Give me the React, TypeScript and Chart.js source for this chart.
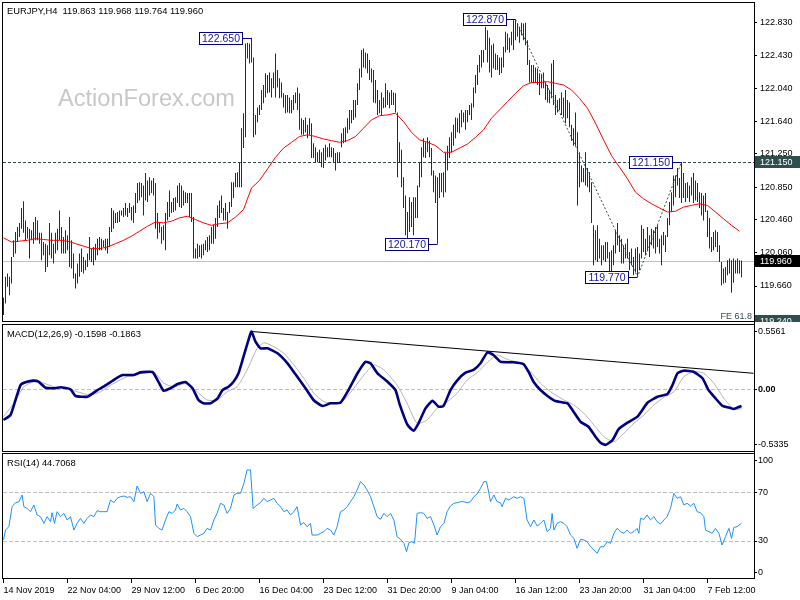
import React, { useEffect, useRef } from "react";
import { Chart, registerables } from "chart.js";

Chart.register(...registerables);

const FONT = '"Liberation Sans", Arial, Helvetica, sans-serif';

// ---------------- data ----------------
const titleText = "EURJPY,H4  119.863 119.968 119.764 119.960";
const macdTitle = "MACD(12,26,9) -0.1598 -0.1863";
const rsiTitle = "RSI(14) 44.7068";
const watermark = "ActionForex.com";

// H4 bars (index 0 = 14 Nov 2019 20:00)
const barHigh = [
  119.52, 119.77, 119.81, 119.77, 120.01, 120.21, 120.31, 120.37, 120.42, 120.60,
  120.68, 120.45, 120.37, 120.35, 120.33, 120.43, 120.49, 120.45, 120.30, 120.30,
  120.19, 120.17, 120.15, 120.42, 120.30, 120.17, 120.30, 120.35, 120.57, 120.37,
  120.25, 120.33, 120.27, 120.49, 120.21, 120.05, 119.81, 119.93, 120.05, 120.11,
  120.01, 119.97, 120.05, 120.25, 120.11, 120.13, 120.17, 120.23, 120.25, 120.23,
  120.21, 120.23, 120.23, 120.37, 120.60, 120.57, 120.54, 120.55, 120.57, 120.57,
  120.60, 120.66, 120.60, 120.66, 120.61, 120.63, 120.78, 120.90, 120.91, 120.90,
  120.87, 121.02, 120.93, 120.97, 120.93, 120.96, 120.90, 120.54, 120.42, 120.37,
  120.39, 120.54, 120.67, 120.81, 120.67, 120.72, 120.73, 120.87, 120.90, 120.87,
  120.81, 120.79, 120.78, 120.78, 120.78, 120.49, 120.11, 120.17, 120.15, 120.16,
  120.17, 120.21, 120.25, 120.27, 120.37, 120.40, 120.48, 120.63, 120.69, 120.75,
  120.60, 120.66, 120.55, 120.67, 120.91, 120.91, 121.02, 121.03, 121.15, 121.56,
  121.74, 122.58, 122.59, 122.58, 122.65, 122.41, 121.72, 121.81, 121.84, 122.02,
  122.08, 122.22, 122.20, 122.23, 122.16, 122.23, 122.46, 122.26, 122.16, 122.11,
  121.98, 121.96, 121.96, 121.93, 121.90, 121.96, 121.99, 122.05, 121.98, 121.68,
  121.66, 121.69, 121.60, 121.68, 121.62, 121.38, 121.33, 121.27, 121.30, 121.27,
  121.32, 121.36, 121.33, 121.38, 121.33, 121.32, 121.26, 121.27, 121.27, 121.50,
  121.56, 121.57, 121.68, 121.78, 121.78, 121.90, 121.90, 122.10, 122.28, 122.50,
  122.52, 122.47, 122.46, 122.38, 122.28, 122.26, 122.14, 122.02, 121.90, 121.99,
  121.93, 122.10, 122.02, 121.99, 122.02, 121.99, 121.98, 121.75, 121.39, 121.30,
  120.97, 120.75, 120.55, 120.73, 120.67, 120.73, 120.73, 120.87, 121.15, 121.33,
  121.44, 121.39, 121.45, 121.41, 121.32, 121.05, 120.99, 120.97, 121.02, 121.02,
  121.03, 121.26, 121.35, 121.45, 121.51, 121.60, 121.69, 121.68, 121.74, 121.78,
  121.75, 121.78, 121.78, 121.84, 121.86, 122.05, 122.20, 122.32, 122.44, 122.50,
  122.50, 122.78, 122.74, 122.65, 122.56, 122.58, 122.46, 122.44, 122.41, 122.41,
  122.54, 122.72, 122.70, 122.65, 122.72, 122.86, 122.87, 122.82, 122.78, 122.83,
  122.82, 122.83, 122.62, 122.38, 122.32, 122.32, 122.29, 122.28, 122.22, 122.20,
  122.23, 122.11, 122.08, 122.02, 122.34, 122.38, 121.96, 121.90, 121.92, 121.99,
  121.93, 122.02, 121.90, 121.87, 121.60, 121.56, 121.75, 121.51, 121.27, 121.11,
  121.08, 121.27, 121.08, 121.03, 120.91, 120.39, 120.33, 120.39, 120.23, 120.15,
  120.15, 120.19, 120.19, 120.07, 120.09, 120.15, 120.33, 120.42, 120.27, 120.23,
  120.15, 120.17, 120.23, 120.07, 120.11, 120.01, 120.11, 120.13, 120.05, 120.39,
  120.35, 120.23, 120.37, 120.27, 120.35, 120.33, 120.37, 120.39, 120.23, 120.27,
  120.31, 120.27, 120.48, 120.67, 120.79, 120.99, 120.99, 121.08, 120.96, 121.15,
  121.02, 120.90, 120.91, 120.87, 120.97, 121.02, 120.93, 120.90, 120.79, 120.78,
  120.75, 120.78, 120.57, 120.48, 120.25, 120.31, 120.33, 120.31, 120.15, 119.95,
  119.87, 119.89, 119.97, 119.99, 119.97, 119.99, 119.97, 119.99, 119.97, 119.968,
];
const barLow = [
  119.31, 119.45, 119.65, 119.55, 119.69, 120.01, 120.05, 120.19, 120.25, 120.35,
  120.30, 120.21, 120.23, 119.99, 120.21, 120.17, 120.21, 120.21, 120.17, 119.97,
  120.03, 119.83, 119.89, 120.03, 119.99, 119.93, 120.05, 120.09, 120.21, 120.05,
  120.05, 120.05, 120.09, 119.89, 119.87, 119.75, 119.63, 119.69, 119.77, 119.83,
  119.81, 119.85, 119.89, 119.97, 119.95, 119.91, 119.97, 120.03, 120.09, 120.09,
  120.13, 120.09, 120.05, 120.13, 120.31, 120.35, 120.42, 120.42, 120.43, 120.51,
  120.49, 120.51, 120.49, 120.54, 120.45, 120.42, 120.54, 120.66, 120.69, 120.73,
  120.51, 120.69, 120.67, 120.75, 120.78, 120.75, 120.35, 120.23, 120.30, 120.17,
  120.21, 120.09, 120.45, 120.49, 120.54, 120.55, 120.57, 120.66, 120.61, 120.60,
  120.63, 120.66, 120.66, 120.49, 120.43, 119.99, 119.99, 119.99, 120.01, 119.99,
  120.03, 120.09, 120.07, 120.09, 120.17, 120.17, 120.23, 120.37, 120.48, 120.54,
  120.45, 120.45, 120.35, 120.54, 120.61, 120.72, 120.85, 120.85, 120.85, 120.85,
  121.32, 121.45, 122.40, 122.34, 122.35, 121.45, 121.48, 121.63, 121.72, 121.78,
  121.86, 121.93, 121.98, 121.99, 121.93, 122.04, 121.93, 122.05, 121.92, 121.93,
  121.81, 121.74, 121.75, 121.74, 121.74, 121.78, 121.86, 121.78, 121.54, 121.48,
  121.48, 121.51, 121.44, 121.48, 121.20, 121.20, 121.14, 121.15, 121.14, 121.09,
  121.08, 121.17, 121.21, 121.21, 121.21, 121.15, 121.05, 121.14, 121.14, 121.33,
  121.38, 121.39, 121.50, 121.54, 121.62, 121.66, 121.69, 121.84, 122.02, 122.17,
  122.29, 122.28, 122.22, 122.14, 122.11, 121.87, 121.86, 121.72, 121.74, 121.72,
  121.80, 121.81, 121.84, 121.80, 121.84, 121.84, 121.75, 120.97, 121.14, 120.85,
  120.60, 120.27, 120.23, 120.31, 120.37, 120.27, 120.48, 120.48, 120.85, 120.97,
  121.21, 121.20, 121.27, 121.21, 120.99, 120.79, 120.66, 120.17, 120.72, 120.79,
  120.73, 120.79, 121.05, 121.20, 121.27, 121.35, 121.44, 121.51, 121.50, 121.57,
  121.63, 121.54, 121.63, 121.72, 121.66, 121.81, 121.98, 122.08, 122.23, 122.29,
  122.35, 122.50, 122.35, 122.23, 122.17, 122.28, 122.26, 122.26, 122.20, 122.22,
  122.29, 122.47, 122.50, 122.47, 122.56, 122.50, 122.62, 122.66, 122.59, 122.68,
  122.62, 122.56, 122.32, 122.11, 122.10, 122.10, 122.11, 122.08, 121.96, 122.04,
  122.04, 121.90, 121.87, 121.86, 121.92, 121.84, 121.72, 121.75, 121.78, 121.72,
  121.69, 121.62, 121.68, 121.57, 121.41, 121.35, 121.35, 120.63, 120.85, 120.91,
  120.91, 120.87, 120.85, 120.79, 120.42, 119.91, 119.97, 119.95, 119.99, 119.91,
  119.97, 119.95, 119.99, 119.81, 119.81, 119.91, 120.05, 120.15, 120.07, 119.93,
  119.93, 119.99, 119.99, 119.85, 119.91, 119.79, 119.83, 119.77, 119.85, 119.99,
  120.07, 120.03, 120.09, 120.01, 120.15, 120.11, 120.05, 120.13, 120.05, 119.91,
  120.15, 120.07, 120.25, 120.39, 120.55, 120.63, 120.73, 120.87, 120.72, 120.66,
  120.72, 120.67, 120.72, 120.67, 120.75, 120.66, 120.69, 120.67, 120.60, 120.51,
  120.45, 120.55, 120.25, 120.11, 120.07, 120.09, 120.13, 120.07, 119.95, 119.67,
  119.69, 119.70, 119.79, 119.81, 119.58, 119.70, 119.81, 119.81, 119.81, 119.764,
];

// red moving average, one reading every 4 bars (bars 0, 4, 8, ... 368)
const MA_STEP = 4;
const maValues = [
  120.24, 120.19, 120.20, 120.21, 120.23, 120.22, 120.21, 120.21, 120.20, 120.17,
  120.14, 120.11, 120.11, 120.13, 120.17, 120.21, 120.26, 120.32, 120.38, 120.43,
  120.42, 120.44, 120.48, 120.50, 120.46, 120.42, 120.39, 120.41, 120.42, 120.49,
  120.58, 120.84, 120.93, 121.07, 121.21, 121.32, 121.39, 121.46, 121.48, 121.46,
  121.43, 121.41, 121.39, 121.41, 121.46, 121.56, 121.66, 121.71, 121.72, 121.74,
  121.64, 121.51, 121.42, 121.39, 121.35, 121.27, 121.27, 121.32, 121.37, 121.45,
  121.54, 121.68, 121.78, 121.88, 121.98, 122.07, 122.11, 122.11, 122.12, 122.10,
  122.08, 122.02, 121.92, 121.80, 121.62, 121.42, 121.23, 121.09, 120.95, 120.79,
  120.71, 120.65, 120.60, 120.55, 120.56, 120.61, 120.63, 120.65, 120.63, 120.55,
  120.47, 120.39, 120.32,
];

// [bar position, value]
const macdMain: [number, number][] = [
  [0, -0.295], [3.5, -0.247], [6, -0.103], [8.5, 0.041], [11, 0.067], [15, 0.083], [17.5, 0.073], [21, 0.015],
  [26, 0.01], [28.5, 0.019], [33.5, 0], [36, -0.064], [42, -0.071], [47, -0.007], [50, 0.025], [55, 0.089],
  [59.5, 0.137], [65, 0.137], [68.5, 0.163], [74.5, 0.166], [77, 0.089], [80, -0.013], [83.5, 0.01], [87, 0.051],
  [91, 0.07], [94.5, 0.01], [97.5, -0.103], [100, -0.135], [103.5, -0.135], [107, -0.087], [109.5, -0.007],
  [112.5, 0.025], [115, 0.073], [117.5, 0.154], [120, 0.313], [123, 0.506], [124, 0.556], [126, 0.458],
  [128.5, 0.394], [132, 0.394], [137, 0.346], [142, 0.25], [146, 0.144], [151, 0.01], [155, -0.103],
  [159.5, -0.161], [163.5, -0.135], [168.5, -0.129], [172.5, -0.007], [177, 0.154], [181, 0.265], [183.5, 0.25],
  [187, 0.154], [192, 0.073], [196, -0.007], [198, -0.14], [202, -0.343], [205, -0.398], [207.5, -0.327],
  [211, -0.183], [214.5, -0.11], [217.5, -0.167], [220, -0.161], [223.5, -0.007], [227, 0.089], [231, 0.16],
  [235, 0.186], [238.5, 0.25], [242, 0.356], [245, 0.33], [248.5, 0.265], [255, 0.26], [260, 0.243],
  [262.5, 0.169], [265, 0.073], [268.5, -0.007], [272.5, -0.071], [276, -0.113], [282, -0.135], [285, -0.215],
  [288.5, -0.312], [292.5, -0.36], [296, -0.456], [298.5, -0.513], [301, -0.534], [304.5, -0.488],
  [307.5, -0.385], [312, -0.321], [317, -0.263], [322, -0.129], [327, -0.071], [332, -0.045], [334.5, 0.041],
  [337, 0.154], [340, 0.179], [345, 0.169], [349.5, 0.106], [352.5, -0.007], [356, -0.087], [359.5, -0.16],
  [363.5, -0.18], [365, -0.19], [367, -0.175], [369, -0.16],
];
const macdSignal: [number, number][] = [
  [0, -0.263], [5.2, -0.135], [10.2, 0.025], [15.2, 0.073], [20.2, 0.058], [25.2, 0.025], [31.8, 0.01],
  [36.8, -0.023], [43.5, -0.055], [48.5, -0.023], [55.2, 0.058], [61.8, 0.121], [68.5, 0.154], [75.2, 0.163],
  [80.2, 0.058], [85.2, 0.025], [91.8, 0.058], [96.8, -0.023], [101.8, -0.103], [106.8, -0.103], [111.8, -0.023],
  [116.8, 0.025], [121.8, 0.186], [126.8, 0.394], [130.2, 0.448], [135.2, 0.41], [140.2, 0.346], [145.2, 0.234],
  [150.2, 0.106], [155.2, -0.038], [160.2, -0.119], [165.2, -0.135], [170.2, -0.103], [175.2, 0.01],
  [180.2, 0.137], [185.2, 0.234], [190.2, 0.186], [196.8, 0.041], [201.8, -0.135], [206.8, -0.327],
  [211.8, -0.295], [216.8, -0.183], [221.8, -0.119], [226.8, -0.038], [231.8, 0.089], [236.8, 0.16],
  [241.8, 0.256], [246.8, 0.33], [251.8, 0.288], [258.5, 0.25], [263.5, 0.169], [268.5, 0.058], [273.5, -0.023],
  [280.2, -0.103], [285.2, -0.151], [290.2, -0.231], [295.2, -0.343], [300.2, -0.456], [305.2, -0.504],
  [310.2, -0.423], [315.2, -0.327], [320.2, -0.247], [325.2, -0.151], [330.2, -0.077], [335.2, -0.023],
  [340.2, 0.121], [345.2, 0.169], [350.2, 0.154], [355.2, 0.058], [360.2, -0.087], [365.2, -0.192], [369, -0.186],
];
const macdTrend: [number, number][] = [[124, 0.556], [375, 0.154]];

const rsiLine: [number, number][] = [
  [0, 30.8], [1, 39], [2.7, 41.8], [4.3, 58.2], [6, 61.5], [7.7, 62.3], [9.3, 67.8], [10.2, 58.2], [11.8, 56.8], [13.5, 54.1],
  [15.2, 59.6], [16.8, 51.4], [18.5, 50], [20.2, 44.5], [21.8, 50], [23.5, 45.9], [24.3, 53.3], [25.5, 44.5], [26.8, 54.1], [28.5, 50],
  [30.2, 52.7], [31.8, 47.3], [33.5, 50], [35.2, 39], [36.8, 44.5], [38.5, 48.6], [40.2, 44.5], [41.8, 48.6], [43.5, 51.4], [45.2, 50],
  [46.8, 54.9], [48.5, 54.1], [50.2, 54.1], [51.8, 54.1], [53.5, 63.7], [55.2, 61.5], [56.8, 65.1], [58.5, 66.4], [60.2, 67], [61.8, 65.9],
  [63.5, 66.4], [65.2, 62.3], [66.8, 75.2], [68.5, 69.2], [70.2, 70.5], [71.8, 62.3], [73.5, 69.2], [75.2, 66.4], [76, 43.2], [77.7, 40.4],
  [79.3, 39], [81, 47.3], [82.7, 54.1], [84.3, 52.7], [86, 55.5], [86.8, 60.4], [88.5, 55.5], [90.2, 56.8], [91.8, 54.1], [93.5, 50],
  [95.2, 36.3], [96.8, 33.6], [98.5, 34.9], [100.2, 36.3], [101.8, 40.4], [103.5, 39], [105.2, 47.3], [106.8, 52.7], [108.5, 61], [110.2, 59.6],
  [111.8, 52.7], [113.5, 56.8], [115.2, 67.8], [116.8, 69.2], [118.5, 69.2], [120.2, 77.4], [121.8, 88.4], [123.5, 88.4], [124.8, 56.8], [126.8, 59.6],
  [128.5, 61.5], [130.2, 65.1], [131.8, 62.3], [133.5, 63.7], [135.2, 65.1], [136.8, 61], [138.5, 58.2], [140.2, 54.1], [141.8, 55.5], [143.5, 51.4],
  [145.2, 54.1], [146.8, 58.2], [148.5, 43.2], [150.2, 45.1], [151.8, 41.8], [153.5, 44.5], [154.3, 34.9], [156.8, 34.9], [158.5, 36.3], [160.2, 37.7],
  [161.8, 40.4], [163.5, 39], [165.2, 34.9], [166.8, 41.8], [168.5, 54.1], [170.2, 55.5], [171.8, 58.2], [173.5, 62.3], [175.2, 66.4], [176.8, 71.9],
  [178.5, 78.8], [180.2, 76], [181.8, 71.9], [183.5, 66.4], [185.2, 58.2], [186.8, 50], [188.5, 47.8], [190.2, 52.7], [191.8, 50], [193.5, 52.7],
  [195.2, 47.3], [196.8, 33.6], [198.5, 31.5], [200.2, 28.1], [201.5, 21.2], [202.7, 28.6], [204.3, 29.5], [205.5, 28.1], [206.8, 52.7], [208.5, 53.3],
  [210.2, 52.7], [211.8, 48.6], [213.5, 50], [215.2, 43.2], [216.8, 34.9], [218.5, 41.8], [220.2, 44.5], [221.8, 54.1], [223.5, 58.8], [225.2, 61],
  [226.8, 61.5], [228.5, 62.3], [230.2, 62.3], [231.8, 61.5], [233.5, 62.3], [235.2, 66.4], [236.8, 68.6], [238.5, 73.3], [240.2, 78.8], [241.5, 78.8],
  [242.7, 69.2], [243.5, 62.3], [245.2, 67.8], [246.8, 62.3], [248.5, 61.5], [249.3, 58.2], [251, 65.1], [252.7, 63.7], [255.2, 66.4], [256.8, 65.1],
  [258.5, 66.4], [260.2, 65.1], [261.8, 47.3], [263.5, 41.8], [265.2, 47.3], [266.8, 42.3], [268.5, 44.5], [270.2, 47.3], [271.8, 37.7], [273.5, 40.4],
  [274.3, 52.7], [275.2, 39], [276.8, 44.5], [278.5, 45.9], [280.2, 44.5], [281.8, 41.8], [283.5, 34.9], [285.2, 32.2], [286.8, 24], [288.5, 31.4],
  [290.2, 30.8], [291.8, 29.5], [293.5, 25.3], [295.2, 22.6], [296.8, 19.9], [298.5, 25.3], [300.2, 25.3], [301.8, 29.5], [303.5, 28.1], [305.2, 36.3],
  [306.8, 40.4], [308.5, 37.7], [310.2, 36.3], [311.8, 39], [313.5, 36.3], [315.2, 37.7], [316.8, 40.4], [317.7, 36.3], [318.5, 48.6], [320.2, 47.8],
  [321.8, 51.4], [323.5, 47.3], [325.2, 50], [326.8, 45.9], [328.5, 43.9], [330.2, 47.3], [331.8, 50], [333.5, 56.8], [335.2, 69.2], [336.8, 65.1],
  [338.5, 66.4], [340.2, 59.6], [341.8, 61], [343.5, 58.8], [345.2, 61], [346.8, 54.1], [348.5, 53.3], [350.2, 50], [351, 39], [352.7, 37.7],
  [354.3, 36.3], [356, 40.4], [357.7, 36.3], [359.3, 26.7], [361, 33.6], [362.7, 40.4], [364, 32.2], [365.2, 41.2], [366.8, 41.8], [368.5, 43.9],
  [369, 44.7],
];

const fibPath: [number, number][] = [[256, 122.87], [317, 119.77], [339, 121.15]];
const swingLabels = [
  { at: 124, price: 122.65 },
  { at: 256, price: 122.87 },
  { at: 217, price: 120.17 },
  { at: 317, price: 119.77 },
  { at: 339, price: 121.15 },
];
const resistanceLevel = 121.15;
const bidLevel = 119.96;
const feLevel = 119.24;
const feText = "FE 61.8";

const priceTicks = [122.83, 122.43, 122.04, 121.64, 121.25, 120.85, 120.46, 120.06, 119.66];
const macdTicks = [0.5561, 0, -0.5335];
const macdTickLabels = ["0.5561", "0.00", "-0.5335"];
const rsiTicks = [96.5, 70, 30, 4.3];
const rsiTickLabels = ["100", "70", "30", "0"];
const rsiLevels = [70, 30];
const dateTickAt = [0, 32, 64, 96, 128, 160, 192, 224, 256, 288, 320, 352];
const dateTickLabels = [
  "14 Nov 2019", "22 Nov 04:00", "29 Nov 12:00", "6 Dec 20:00", "16 Dec 04:00", "23 Dec 12:00",
  "31 Dec 20:00", "9 Jan 04:00", "16 Jan 12:00", "23 Jan 20:00", "31 Jan 04:00", "7 Feb 12:00",
];

// ---------------- layout ----------------
const X_MIN = -0.75;
const X_MAX = 375.25;
const AXIS_W = 46;
const PRICE_RANGE = [119.2266, 123.0792];
const MACD_RANGE = [-0.6029, 0.6279];
const RSI_RANGE = [-1.23, 102.33];

const BAR_COLOR = "#0f3452";
const SLATE = "#2f4f4f";

function baseOptions(top: number, bottom: number) {
  return {
    responsive: false,
    animation: false as const,
    devicePixelRatio: 1,
    events: [] as any[],
    layout: { padding: { left: 2, right: 0, top, bottom } },
    plugins: { legend: { display: false }, tooltip: { enabled: false }, title: { display: false } },
  };
}

function hiddenX() {
  return { type: "linear", min: X_MIN, max: X_MAX, display: false, offset: false, grid: { offset: false } };
}

function rightAxis(range: number[], ticks: number[], label: (i: number) => string, pad: number, boldZero = false) {
  return {
    type: "linear",
    position: "right",
    min: range[0],
    max: range[1],
    afterFit: (s: any) => {
      s.width = AXIS_W;
      s.paddingTop = 0;
      s.paddingBottom = 0;
    },
    afterBuildTicks: (s: any) => {
      s.ticks = ticks.map((v) => ({ value: v }));
    },
    ticks: {
      autoSkip: false,
      font: (c: any) => ({
        family: FONT,
        size: 9,
        weight: boldZero && c.tick && c.tick.value === 0 ? "bold" : "normal",
      }),
      color: "#000",
      padding: pad,
      callback: (_v: any, i: number) => label(i),
    },
    grid: { drawOnChartArea: false, drawTicks: true, tickLength: 3, color: "#000" },
    border: { display: false },
  };
}

function frame(ctx: CanvasRenderingContext2D, a: any) {
  ctx.save();
  ctx.strokeStyle = "#000";
  ctx.lineWidth = 1;
  ctx.setLineDash([]);
  ctx.strokeRect(a.left + 0.5, a.top + 0.5, a.right - a.left, a.bottom - a.top - 1);
  ctx.restore();
}

function hLine(ctx: CanvasRenderingContext2D, a: any, yPix: number, color: string, dash: number[]) {
  const y = Math.round(yPix) + 0.5;
  ctx.save();
  ctx.strokeStyle = color;
  ctx.lineWidth = 1;
  ctx.setLineDash(dash);
  ctx.beginPath();
  ctx.moveTo(a.left + 1, y);
  ctx.lineTo(a.right, y);
  ctx.stroke();
  ctx.restore();
}

function axisBox(ctx: CanvasRenderingContext2D, a: any, yPix: number, text: string, bg: string, clipBottom: number) {
  const yc = Math.round(yPix);
  ctx.save();
  ctx.beginPath();
  ctx.rect(a.right + 1, 0, 100, clipBottom);
  ctx.clip();
  ctx.fillStyle = bg;
  ctx.fillRect(a.right + 1, yc - 6, 800 - a.right - 1, 12);
  ctx.fillStyle = "#fff";
  ctx.font = `9px ${FONT}`;
  ctx.textBaseline = "middle";
  ctx.textAlign = "left";
  ctx.fillText(text, a.right + 6, yc + 0.5);
  ctx.restore();
}

const pricePlugin = {
  id: "pricePanel",
  beforeDatasetsDraw(chart: any) {
    const { ctx, chartArea: a, scales } = chart;
    const y = scales.y;
    ctx.save();
    // watermark
    ctx.font = `23px ${FONT}`;
    const w = ctx.measureText(watermark).width;
    ctx.fillStyle = "#c8c8c8";
    ctx.textBaseline = "alphabetic";
    ctx.translate(58, 106);
    ctx.scale(177 / w, 1);
    ctx.fillText(watermark, 0, 0);
    ctx.restore();
    hLine(ctx, a, y.getPixelForValue(bidLevel), "#c0c0c0", []);
    hLine(ctx, a, y.getPixelForValue(resistanceLevel), SLATE, [3, 2]);
  },
  afterDraw(chart: any) {
    const { ctx, chartArea: a, scales } = chart;
    const x = scales.x;
    const y = scales.y;
    frame(ctx, a);
    ctx.save();
    // title
    ctx.font = `9.4px ${FONT}`;
    ctx.fillStyle = "#000";
    ctx.textBaseline = "alphabetic";
    ctx.textAlign = "left";
    ctx.fillText(titleText, 7, 14);
    // swing labels
    ctx.font = `10.5px ${FONT}`;
    for (const lb of swingLabels) {
      const px = Math.floor(x.getPixelForValue(lb.at));
      const py = Math.round(y.getPixelForValue(lb.price));
      const right = px - 9;
      const left = right - 43;
      ctx.fillStyle = "#fff";
      ctx.fillRect(left, py - 6, 43, 12);
      ctx.strokeStyle = "#000080";
      ctx.lineWidth = 1;
      ctx.setLineDash([]);
      ctx.strokeRect(left + 0.5, py - 6 + 0.5, 43, 12);
      ctx.beginPath();
      ctx.moveTo(right + 0.5, py + 0.5);
      ctx.lineTo(px + 0.5, py + 0.5);
      ctx.stroke();
      ctx.fillStyle = "#1414a0";
      ctx.textAlign = "center";
      ctx.textBaseline = "middle";
      ctx.fillText(lb.price.toFixed(3), left + 22, py + 1);
    }
    // FE text
    ctx.font = `9px ${FONT}`;
    ctx.fillStyle = SLATE;
    ctx.textAlign = "right";
    ctx.textBaseline = "alphabetic";
    ctx.fillText(feText, a.right - 2, a.bottom - 3);
    ctx.restore();
    // right-axis boxes
    axisBox(ctx, a, y.getPixelForValue(resistanceLevel), resistanceLevel.toFixed(3), SLATE, 600);
    axisBox(ctx, a, y.getPixelForValue(bidLevel), bidLevel.toFixed(3), "#000", 600);
    axisBox(ctx, a, y.getPixelForValue(feLevel), feLevel.toFixed(3), SLATE, a.bottom);
  },
};

const macdPlugin = {
  id: "macdPanel",
  beforeDatasetsDraw(chart: any) {
    const { ctx, chartArea: a, scales } = chart;
    hLine(ctx, a, scales.y.getPixelForValue(0), "#c0c0c0", [4, 2]);
  },
  afterDraw(chart: any) {
    const { ctx, chartArea: a } = chart;
    frame(ctx, a);
    ctx.save();
    ctx.font = `9.4px ${FONT}`;
    ctx.fillStyle = "#000";
    ctx.textBaseline = "alphabetic";
    ctx.fillText(macdTitle, 7, a.top + 13);
    ctx.restore();
  },
};

const rsiPlugin = {
  id: "rsiPanel",
  beforeDatasetsDraw(chart: any) {
    const { ctx, chartArea: a, scales } = chart;
    for (const lv of rsiLevels) hLine(ctx, a, scales.y.getPixelForValue(lv), "#c0c0c0", [4, 2]);
  },
  afterDraw(chart: any) {
    const { ctx, chartArea: a } = chart;
    frame(ctx, a);
    ctx.save();
    ctx.strokeStyle = "#000";
    ctx.lineWidth = 1;
    ctx.beginPath();
    ctx.moveTo(a.right + 0.5, 2);
    ctx.lineTo(a.right + 0.5, a.bottom);
    ctx.stroke();
    ctx.font = `9.4px ${FONT}`;
    ctx.fillStyle = "#000";
    ctx.textBaseline = "alphabetic";
    ctx.fillText(rsiTitle, 7, a.top + 13);
    ctx.restore();
  },
};

const toXY = (pts: [number, number][]) => pts.map(([x, y]) => ({ x, y }));

export default function App() {
  const priceRef = useRef<HTMLCanvasElement>(null);
  const macdRef = useRef<HTMLCanvasElement>(null);
  const rsiRef = useRef<HTMLCanvasElement>(null);

  useEffect(() => {
    document.body.style.margin = "0";
    const bars = barHigh.map((h, i) => ({ x: i, y: [barLow[i], h] }));
    const ma = maValues.map((v, k) => ({ x: k * MA_STEP, y: v }));

    const price = new Chart(priceRef.current as HTMLCanvasElement, {
      type: "bar",
      data: {
        datasets: [
          {
            type: "line",
            data: toXY(fibPath),
            borderColor: SLATE,
            borderWidth: 1,
            borderDash: [2, 2],
            pointRadius: 0,
            tension: 0,
          } as any,
          {
            type: "line",
            data: ma,
            borderColor: "#ff0000",
            borderWidth: 1,
            pointRadius: 0,
            tension: 0,
          } as any,
          {
            type: "bar",
            data: bars,
            backgroundColor: BAR_COLOR,
            borderWidth: 0,
            barThickness: 1,
            inflateAmount: 0,
          } as any,
        ],
      },
      options: {
        ...baseOptions(2, 600 - 322),
        scales: {
          x: hiddenX(),
          y: rightAxis(PRICE_RANGE, priceTicks, (i) => priceTicks[i].toFixed(3), 3),
        },
      } as any,
      plugins: [pricePlugin],
    });

    const macd = new Chart(macdRef.current as HTMLCanvasElement, {
      type: "line",
      data: {
        datasets: [
          { data: toXY(macdTrend), borderColor: "#000", borderWidth: 1, pointRadius: 0, tension: 0 },
          { data: toXY(macdMain), borderColor: "#000080", borderWidth: 2.6, pointRadius: 0, tension: 0.15 },
          { data: toXY(macdSignal), borderColor: "#b4b4b4", borderWidth: 1, pointRadius: 0, tension: 0.2 },
        ] as any,
      },
      options: {
        ...baseOptions(324, 600 - 452),
        scales: {
          x: hiddenX(),
          y: rightAxis(MACD_RANGE, macdTicks, (i) => macdTickLabels[i], 1, true),
        },
      } as any,
      plugins: [macdPlugin],
    });

    const rsi = new Chart(rsiRef.current as HTMLCanvasElement, {
      type: "line",
      data: {
        datasets: [
          { data: toXY(rsiLine), borderColor: "#1e90ff", borderWidth: 1, pointRadius: 0, tension: 0 },
        ] as any,
      },
      options: {
        ...baseOptions(453, 0),
        scales: {
          x: {
            type: "linear",
            position: "bottom",
            min: X_MIN,
            max: X_MAX,
            offset: false,
            afterFit: (s: any) => {
              s.height = 21;
              s.paddingLeft = 0;
              s.paddingRight = 0;
            },
            afterBuildTicks: (s: any) => {
              s.ticks = dateTickAt.map((v) => ({ value: v }));
            },
            ticks: {
              autoSkip: false,
              maxRotation: 0,
              minRotation: 0,
              align: "start",
              padding: 2,
              font: { family: FONT, size: 9 },
              color: "#000",
              callback: (_v: any, i: number) => dateTickLabels[i],
            },
            grid: { drawOnChartArea: false, drawTicks: true, tickLength: 4, color: "#000", offset: false },
            border: { display: false },
          },
          y: rightAxis(RSI_RANGE, rsiTicks, (i) => rsiTickLabels[i], 1),
        },
      } as any,
      plugins: [rsiPlugin],
    });

    return () => {
      price.destroy();
      macd.destroy();
      rsi.destroy();
    };
  }, []);

  const cs: React.CSSProperties = { position: "absolute", left: 0, top: 0, width: 800, height: 600 };
  return (
    <div style={{ position: "fixed", left: 0, top: 0, width: 800, height: 600, background: "#fff" }}>
      <canvas ref={priceRef} width={800} height={600} style={cs} />
      <canvas ref={macdRef} width={800} height={600} style={cs} />
      <canvas ref={rsiRef} width={800} height={600} style={cs} />
    </div>
  );
}
